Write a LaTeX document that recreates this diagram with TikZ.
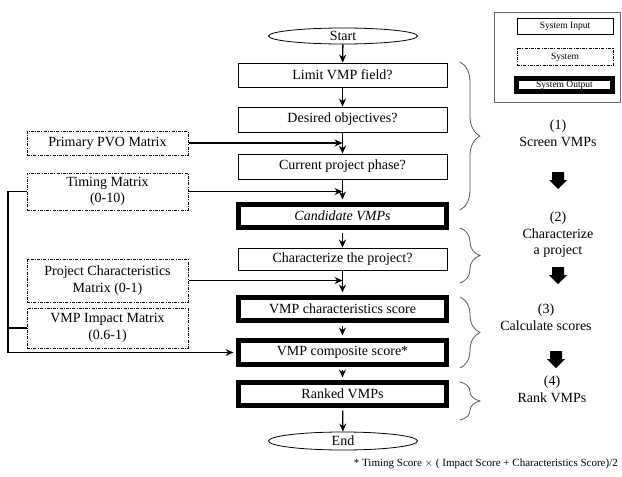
\documentclass[tikz,border=0pt]{standalone}
\usepackage{fontspec}
\setmainfont{Liberation Serif}
\usetikzlibrary{arrows.meta,shapes.geometric,decorations.pathreplacing}
\begin{document}
\begin{tikzpicture}[x=1pt,y=-1pt,
  every node/.style={font=\fontsize{14}{16.5}\selectfont, inner sep=0pt},
  inbox/.style={draw, line width=0.8pt, minimum width=209pt, minimum height=24pt},
  outbox/.style={draw, line width=5pt, minimum width=208pt, minimum height=23pt},
  sysbox/.style={draw, line width=1pt, dash pattern=on 3pt off 1.2pt on 1pt off 1.2pt,
     minimum width=161pt, align=center},
  term/.style={draw, ellipse, line width=0.8pt, minimum width=149pt, minimum height=16pt},
  flow/.style={-{Stealth[length=8pt,width=7pt]}, line width=1.3pt},
  wire/.style={line width=1.3pt},
  bracestyle/.style={decorate, decoration={brace, amplitude=20pt}, draw=black!65, line width=0.8pt},
  phaselabel/.style={align=center},
  legendtext/.style={font=\fontsize{9.5}{11}\selectfont},
  blockarrow/.style={fill=black}
]
\useasboundingbox (0,0) rectangle (622,477);

% main flow
\node[term] (start) at (343,36) {Start};
\node[inbox] (limit) at (342.5,75) {Limit VMP field?};
\node[inbox, minimum height=25pt] (desired) at (342.5,119.5) {Desired objectives?};
\node[inbox, minimum height=25pt] (current) at (342.5,166.5) {Current project phase?};
\node[outbox] (candidate) at (342.5,216) {\itshape Candidate VMPs};
\node[inbox, minimum height=22pt] (character) at (342.5,259) {Characterize the project?};
\node[outbox] (vmpchar) at (342.5,309) {VMP characteristics score};
\node[outbox, minimum height=24pt] (vmpcomp) at (342.5,352.5) {VMP composite score*};
\node[outbox] (ranked) at (342.5,394) {Ranked VMPs};
\node[term, minimum height=18pt] (end) at (343,441) {End};

\draw[flow] (start) -- (limit);
\draw[flow] (limit) -- (desired);
\draw[flow] (desired) -- (current);
\draw[flow, shorten >=2.5pt] (current) -- (candidate);
\draw[flow, shorten <=2.5pt] (candidate) -- (character);
\draw[flow, shorten >=2.5pt] (character) -- (vmpchar);
\draw[flow, shorten <=2.5pt, shorten >=2.5pt] (vmpchar) -- (vmpcomp);
\draw[flow, shorten <=2.5pt, shorten >=2.5pt] (vmpcomp) -- (ranked);
\draw[flow, shorten <=2.5pt] (ranked) -- (end);

% system (input matrices)
\node[sysbox, minimum height=24pt] (pvo) at (107.5,143) {Primary PVO Matrix};
\node[sysbox, minimum height=37pt] (timing) at (107.5,191.5) {Timing Matrix\\(0-10)};
\node[sysbox, minimum height=43pt] (projchar) at (107.5,280.5) {Project Characteristics\\Matrix (0-1)};
\node[sysbox, minimum height=40pt] (impact) at (107.5,328) {VMP Impact Matrix\\(0.6-1)};

\coordinate (bus) at (8,352.5);
\draw[flow] (pvo.east) -- (pvo.east -| desired.south);
\draw[flow] (timing.east) -- (timing.east -| current.south);
\draw[flow] (projchar.east) -- (projchar.east -| character.south);
\draw[wire] (timing.west) -| (bus);
\draw[wire] (impact.west) -- (impact.west -| bus);
\draw[flow, shorten >=2.5pt] (bus) -- (vmpcomp.west);

% braces
\draw[bracestyle] (460,62) -- (460,210);
\draw[bracestyle] (460,228) -- (460,283);
\draw[bracestyle] (460,297) -- (460,368);
\draw[bracestyle] (460,382) -- (460,420);

% phase labels
\node[phaselabel] (p1) at (558,133) {(1)\\Screen VMPs};
\fill[blockarrow, shift={(558,172)}] (-6,0) -- (6,0) -- (6,8) -- (9,8) -- (0,17) -- (-9,8) -- (-6,8) -- cycle;
\node[phaselabel] (p2) at (558,235) {(2)\\Characterize\\a project};
\fill[blockarrow, shift={(558,267)}] (-6,0) -- (6,0) -- (6,8) -- (9,8) -- (0,17) -- (-9,8) -- (-6,8) -- cycle;
\node[phaselabel] (p3) at (546,317) {(3)\\Calculate scores};
\fill[blockarrow, shift={(556,351)}] (-6,0) -- (6,0) -- (6,8) -- (9,8) -- (0,17) -- (-9,8) -- (-6,8) -- cycle;
\node[phaselabel] (p4) at (552,389) {(4)\\Rank VMPs};

% legend
\node[draw=black!60, line width=0.7pt, minimum width=126pt, minimum height=90pt] (legend) at (557,57) {};
\node[draw, line width=0.8pt, minimum width=96pt, minimum height=16pt, legendtext] (lin) at (565,26) {System Input};
\node[draw, line width=1pt, dash pattern=on 3pt off 1.2pt on 1pt off 1.2pt, minimum width=96pt, minimum height=17pt, legendtext] (lsys) at (565,57) {System};
\node[draw, line width=5pt, minimum width=96pt, minimum height=13pt, legendtext] (lout) at (564.5,85) {System Output};

% footnote
\node[anchor=east, font=\fontsize{11}{13}\selectfont] (foot) at (618,464) {* Timing Score $\times$ ( Impact Score + Characteristics Score)/2};
\end{tikzpicture}
\end{document}
